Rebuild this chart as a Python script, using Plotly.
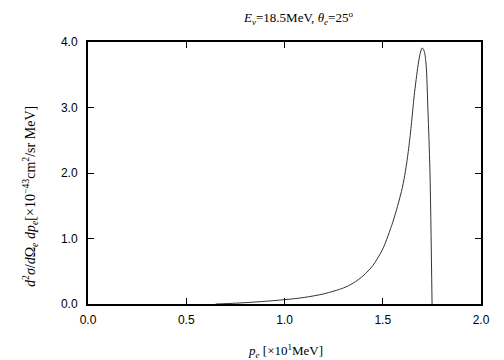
import plotly.graph_objects as go

p_e = [0.65, 0.75, 0.85, 1.0, 1.1, 1.2, 1.3, 1.35, 1.4, 1.45, 1.5, 1.55, 1.575, 1.6, 1.615,
       1.63, 1.645, 1.66, 1.68, 1.69, 1.70, 1.71, 1.72, 1.73, 1.74, 1.751]
cross = [0.0, 0.012, 0.03, 0.066, 0.10, 0.155, 0.245, 0.32, 0.43, 0.59, 0.84, 1.24, 1.49, 1.78, 2.02,
         2.33, 2.72, 3.18, 3.65, 3.82, 3.91, 3.87, 3.68, 2.95, 2.05, 0.0]

x_ticks = [0.0, 0.5, 1.0, 1.5, 2.0]
y_ticks = [0.0, 1.0, 2.0, 3.0, 4.0]

fig = go.Figure()
fig.add_trace(go.Scatter(x=p_e, y=cross, mode="lines",
                         line=dict(color="#333333", width=1, shape="spline", smoothing=0.8),
                         showlegend=False, hoverinfo="skip"))

axis_common = dict(showline=True, linecolor="black", linewidth=2, mirror="ticks",
                   ticks="inside", ticklen=6, tickwidth=1, tickcolor="black",
                   showgrid=False, zeroline=False,
                   tickfont=dict(family="Liberation Sans, Arial, sans-serif", size=12, color="black"))

fig.update_xaxes(range=[0, 2], tickvals=x_ticks, ticktext=[f"{v:.1f}" for v in x_ticks],
                 ticklabelstandoff=4, **axis_common)
fig.update_yaxes(range=[0, 4], tickvals=y_ticks, ticktext=[f"{v:.1f}" for v in y_ticks],
                 ticklabelstandoff=6, **axis_common)

# The page body has an 8px margin, so the figure is drawn 8px smaller and offset.
W, H = 496, 352
ML, MR, MT, MB = 80, 23, 34, 56
OFF = 8

serif = dict(family="Liberation Serif, Times New Roman, serif", size=13, color="black")
serif_y = dict(family="Liberation Serif, Times New Roman, serif", size=14, color="black")
fig.update_layout(
    width=W, height=H,
    margin=dict(l=ML, r=MR, t=MT, b=MB),
    paper_bgcolor="white", plot_bgcolor="white",
    annotations=[
        dict(text="<i>E<sub>ν</sub></i>=18.5MeV, <i>θ<sub>e</sub></i>=25<sup>o</sup>",
             x=298, y=18, showarrow=False, font=serif),
        dict(text="<i>p<sub>e</sub></i> [×10<sup>1</sup>MeV]",
             x=285, y=351, showarrow=False, font=serif),
        dict(text="<i>d</i><sup>2</sup><i>σ</i>/<i>d</i>Ω<sub><i>e</i></sub> <i>dp<sub>e</sub></i>[×10<sup>−43</sup>cm<sup>2</sup>/sr MeV]",
             x=30, y=197, textangle=-90, showarrow=False, font=serif_y),
    ],
)

# convert screen pixel positions to paper coordinates for annotations
pw = W - ML - MR
ph = H - MT - MB
for a in fig.layout.annotations:
    sx = a.x - OFF
    sy = a.y - OFF
    a.xref = "paper"
    a.yref = "paper"
    a.x = (sx - ML) / pw
    a.y = (H - MB - sy) / ph
    a.xanchor = "center"
    a.yanchor = "middle"

fig.write_html("out.html")
